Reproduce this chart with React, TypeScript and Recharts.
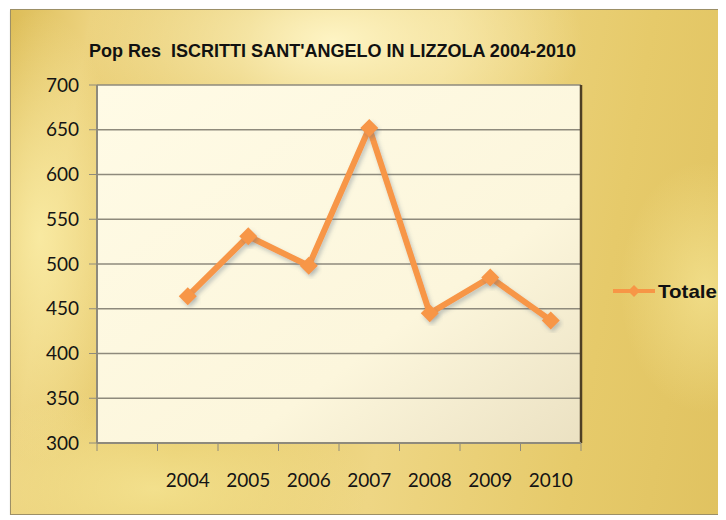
import React from "react";
import { CartesianGrid, Legend, Line, LineChart, XAxis, YAxis } from "recharts";

// first slot is empty in the original sheet, so the series starts one band in
const years = ["", "2004", "2005", "2006", "2007", "2008", "2009", "2010"];
const totale: (number | null)[] = [null, 464, 531, 498, 652, 445, 485, 437];
const yTicks = [300, 350, 400, 450, 500, 550, 600, 650, 700];

const data = years.map((y, i) => ({ year: y, totale: totale[i] }));

const W = 716;
const H = 504;
const LEGEND_W = 110;
const M = { top: 75, right: 36, bottom: 31, left: 46 };
const Y_W = 40;
const X_H = 40;
const ORANGE = "#f79646";
const GRID = "#8e8a7c";
const LABEL_FONT = "Lato, 'DejaVu Sans Condensed', sans-serif";
const BOLD_FONT = "'Liberation Sans', Arial, sans-serif";

const plotW = W - M.left - M.right - Y_W - LEGEND_W;
const band = plotW / years.length;

const YearTick = (props: any) => {
  const { x, y, payload, index } = props;
  const last = index === years.length - 1;
  return (
    <g>
      <line x1={x - band / 2} x2={x - band / 2} y1={y} y2={y + 8} stroke={GRID} />
      {last && <line x1={x + band / 2} x2={x + band / 2} y1={y} y2={y + 8} stroke={GRID} />}
      <text x={x} y={y + 44} textAnchor="middle" fill="#141414" fontSize={19} fontFamily={LABEL_FONT}>
        {payload.value}
      </text>
    </g>
  );
};

const Diamond = (props: any) => {
  const { cx, cy } = props;
  if (cx == null || cy == null) return null;
  const r = 9;
  return (
    <path
      d={`M${cx},${cy - r}L${cx + r},${cy}L${cx},${cy + r}L${cx - r},${cy}Z`}
      fill={ORANGE}
      filter="url(#lineShadow)"
    />
  );
};

const LegendBox = () => (
  <svg width={LEGEND_W} height={24} style={{ display: "block" }}>
    <line x1={2} x2={44} y1={12} y2={12} stroke={ORANGE} strokeWidth={4} />
    <path d="M23,6L29,12L23,18L17,12Z" fill={ORANGE} />
    <text
      x={47}
      y={19}
      fontFamily={BOLD_FONT}
      fontWeight="bold"
      fontSize={19}
      fill="#111"
      textLength={59}
      lengthAdjust="spacingAndGlyphs"
    >
      Totale
    </text>
  </svg>
);

export default function App() {
  return (
    <div
      style={{
        position: "relative",
        width: W,
        height: H,
        marginLeft: 2,
        marginTop: 1,
        border: "1px solid #9c8f66",
        boxShadow: "1px 2px 2px rgba(80,70,40,0.6)",
        background:
          "radial-gradient(ellipse 35% 25% at 45% 6%, rgba(255,246,200,0.95), rgba(255,246,200,0) 100%)," +
          "radial-gradient(ellipse 12% 45% at 4% 45%, rgba(250,236,165,0.9), rgba(250,236,165,0) 100%)," +
          "radial-gradient(ellipse 30% 20% at 20% 95%, rgba(246,230,150,0.8), rgba(246,230,150,0) 100%)," +
          "radial-gradient(ellipse 12% 25% at 97% 55%, rgba(246,230,150,0.7), rgba(246,230,150,0) 100%)," +
          "linear-gradient(100deg, #ddbd58 0%, #ecd27e 10%, #e4c664 30%, #eed684 55%, #e6ca6a 80%, #e0c260 100%)",
      }}
    >
      <svg width={W} height={60} style={{ position: "absolute", left: 0, top: 0 }}>
        <text
          x={78}
          y={47}
          fontFamily={BOLD_FONT}
          fontWeight="bold"
          fontSize={19}
          fill="#111"
          textLength={487}
          lengthAdjust="spacingAndGlyphs"
          style={{ whiteSpace: "pre" }}
        >
          {"Pop Res  ISCRITTI SANT'ANGELO IN LIZZOLA 2004-2010"}
        </text>
      </svg>
      <LineChart width={W} height={H} data={data} margin={M}>
        <defs>
          <linearGradient id="plotFill" x1="0" y1="0" x2="1" y2="1">
            <stop offset="0%" stopColor="#fffbe6" />
            <stop offset="65%" stopColor="#fcf6dc" />
            <stop offset="100%" stopColor="#ebe1c2" />
          </linearGradient>
          <filter id="lineShadow" x="-20%" y="-20%" width="140%" height="140%">
            <feDropShadow dx={2} dy={3} stdDeviation={2} floodColor="#5b6b7e" floodOpacity={0.35} />
          </filter>
        </defs>
        <CartesianGrid vertical={false} stroke={GRID} strokeWidth={1.5} fill="url(#plotFill)" fillOpacity={1} />
        {/* dark shadow line on the right edge of the plot */}
        <CartesianGrid
          horizontal={false}
          stroke="#4e3f24"
          strokeWidth={2.5}
          verticalCoordinatesGenerator={({ offset }: any) => [offset.left + offset.width]}
        />
        <XAxis
          dataKey="year"
          height={X_H}
          interval={0}
          padding={{ left: band / 2, right: band / 2 }}
          tickLine={false}
          tickSize={0}
          tickMargin={0}
          axisLine={{ stroke: GRID, strokeWidth: 2 }}
          tick={<YearTick />}
        />
        <YAxis
          domain={[300, 700]}
          ticks={yTicks}
          width={Y_W}
          tickSize={8}
          tickMargin={10}
          axisLine={{ stroke: GRID, strokeWidth: 2 }}
          tickLine={{ stroke: GRID }}
          tick={{ fill: "#141414", fontSize: 19, fontFamily: LABEL_FONT }}
        />
        <Legend
          layout="vertical"
          align="right"
          verticalAlign="top"
          content={<LegendBox />}
          wrapperStyle={{ left: 600, top: 269, width: LEGEND_W }}
        />
        <Line
          type="linear"
          dataKey="totale"
          stroke={ORANGE}
          strokeWidth={6}
          strokeLinejoin="miter"
          filter="url(#lineShadow)"
          dot={<Diamond />}
          activeDot={false}
          connectNulls={false}
          isAnimationActive={false}
        />
      </LineChart>
    </div>
  );
}
